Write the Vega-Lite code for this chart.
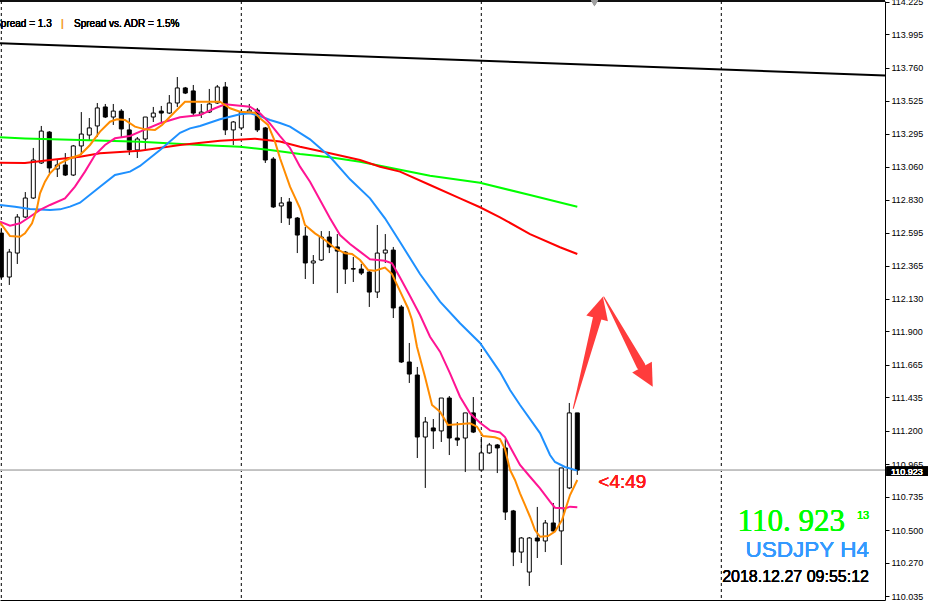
{
  "$schema": "https://vega.github.io/schema/vega-lite/v6.json",
  "width": 885,
  "height": 599,
  "autosize": {"type": "none"},
  "padding": {"left": 0, "top": 1, "right": 48, "bottom": 2},
  "background": "white",
  "config": {"view": {"stroke": null}},
  "datasets": {
    "candles": [
      {"i":0,"o":112.594,"h":112.630,"l":112.270,"c":112.284},
      {"i":1,"o":112.284,"h":112.482,"l":112.228,"c":112.460},
      {"i":2,"o":112.453,"h":112.728,"l":112.376,"c":112.707},
      {"i":3,"o":112.707,"h":112.883,"l":112.700,"c":112.841},
      {"i":4,"o":112.841,"h":113.194,"l":112.834,"c":113.109},
      {"i":5,"o":113.088,"h":113.349,"l":113.081,"c":113.313},
      {"i":6,"o":113.306,"h":113.313,"l":113.017,"c":113.053},
      {"i":7,"o":113.046,"h":113.116,"l":112.989,"c":113.074},
      {"i":8,"o":113.074,"h":113.158,"l":112.996,"c":113.003},
      {"i":9,"o":113.003,"h":113.215,"l":112.996,"c":113.208},
      {"i":10,"o":113.208,"h":113.447,"l":113.144,"c":113.292},
      {"i":11,"o":113.285,"h":113.405,"l":113.250,"c":113.335},
      {"i":12,"o":113.349,"h":113.511,"l":113.271,"c":113.476},
      {"i":13,"o":113.483,"h":113.504,"l":113.405,"c":113.412},
      {"i":14,"o":113.412,"h":113.504,"l":113.356,"c":113.454},
      {"i":15,"o":113.454,"h":113.468,"l":113.271,"c":113.328},
      {"i":16,"o":113.321,"h":113.405,"l":113.144,"c":113.180},
      {"i":17,"o":113.180,"h":113.271,"l":113.123,"c":113.257},
      {"i":18,"o":113.257,"h":113.412,"l":113.180,"c":113.412},
      {"i":19,"o":113.412,"h":113.483,"l":113.377,"c":113.440},
      {"i":20,"o":113.454,"h":113.490,"l":113.377,"c":113.440},
      {"i":21,"o":113.440,"h":113.567,"l":113.433,"c":113.511},
      {"i":22,"o":113.511,"h":113.694,"l":113.483,"c":113.617},
      {"i":23,"o":113.617,"h":113.624,"l":113.574,"c":113.581},
      {"i":24,"o":113.596,"h":113.638,"l":113.426,"c":113.440},
      {"i":25,"o":113.433,"h":113.504,"l":113.405,"c":113.447},
      {"i":26,"o":113.447,"h":113.610,"l":113.440,"c":113.504},
      {"i":27,"o":113.511,"h":113.638,"l":113.504,"c":113.624},
      {"i":28,"o":113.624,"h":113.659,"l":113.285,"c":113.321},
      {"i":29,"o":113.321,"h":113.384,"l":113.215,"c":113.377},
      {"i":30,"o":113.335,"h":113.461,"l":113.328,"c":113.447},
      {"i":31,"o":113.447,"h":113.504,"l":113.440,"c":113.461},
      {"i":32,"o":113.461,"h":113.476,"l":113.306,"c":113.321},
      {"i":33,"o":113.335,"h":113.342,"l":113.088,"c":113.109},
      {"i":34,"o":113.116,"h":113.130,"l":112.771,"c":112.778},
      {"i":35,"o":112.785,"h":112.848,"l":112.665,"c":112.806},
      {"i":36,"o":112.813,"h":112.841,"l":112.651,"c":112.700},
      {"i":37,"o":112.700,"h":112.707,"l":112.453,"c":112.580},
      {"i":38,"o":112.573,"h":112.637,"l":112.270,"c":112.383},
      {"i":39,"o":112.383,"h":112.439,"l":112.235,"c":112.397},
      {"i":40,"o":112.404,"h":112.608,"l":112.397,"c":112.566},
      {"i":41,"o":112.566,"h":112.608,"l":112.453,"c":112.496},
      {"i":42,"o":112.496,"h":112.587,"l":112.171,"c":112.467},
      {"i":43,"o":112.460,"h":112.467,"l":112.235,"c":112.340},
      {"i":44,"o":112.343,"h":112.425,"l":112.249,"c":112.340},
      {"i":45,"o":112.340,"h":112.376,"l":112.298,"c":112.312},
      {"i":46,"o":112.319,"h":112.326,"l":112.073,"c":112.178},
      {"i":47,"o":112.178,"h":112.651,"l":112.136,"c":112.453},
      {"i":48,"o":112.453,"h":112.587,"l":112.383,"c":112.474},
      {"i":49,"o":112.474,"h":112.496,"l":111.995,"c":112.066},
      {"i":50,"o":112.073,"h":112.087,"l":111.678,"c":111.685},
      {"i":51,"o":111.685,"h":111.819,"l":111.537,"c":111.600},
      {"i":52,"o":111.593,"h":111.650,"l":111.008,"c":111.156},
      {"i":53,"o":111.156,"h":111.297,"l":110.797,"c":111.262},
      {"i":54,"o":111.220,"h":111.283,"l":111.072,"c":111.199},
      {"i":55,"o":111.199,"h":111.431,"l":111.121,"c":111.431},
      {"i":56,"o":111.431,"h":111.445,"l":111.029,"c":111.149},
      {"i":57,"o":111.149,"h":111.262,"l":111.093,"c":111.135},
      {"i":58,"o":111.149,"h":111.326,"l":110.909,"c":111.326},
      {"i":59,"o":111.326,"h":111.438,"l":111.184,"c":111.191},
      {"i":60,"o":110.924,"h":111.156,"l":110.917,"c":111.044},
      {"i":61,"o":111.044,"h":111.114,"l":111.037,"c":111.100},
      {"i":62,"o":111.100,"h":111.107,"l":110.902,"c":111.079},
      {"i":63,"o":111.079,"h":111.142,"l":110.571,"c":110.627},
      {"i":64,"o":110.635,"h":110.642,"l":110.246,"c":110.345},
      {"i":65,"o":110.345,"h":110.451,"l":110.268,"c":110.444},
      {"i":66,"o":110.204,"h":110.451,"l":110.106,"c":110.444},
      {"i":67,"o":110.444,"h":110.663,"l":110.303,"c":110.423},
      {"i":68,"o":110.423,"h":110.571,"l":110.345,"c":110.550},
      {"i":69,"o":110.550,"h":110.691,"l":110.487,"c":110.494},
      {"i":70,"o":110.494,"h":110.938,"l":110.254,"c":110.938},
      {"i":71,"o":110.797,"h":111.396,"l":110.789,"c":111.326},
      {"i":72,"o":111.326,"h":111.326,"l":110.889,"c":110.923}
    ],
    "ma": [
      {"s":"trend","i":-0.1625,"p":113.932},{"s":"trend","i":110.4625,"p":113.705},
      {"s":"green","i":-0.16,"p":113.269},{"s":"green","i":2.96,"p":113.261},{"s":"green","i":9.84,"p":113.250},{"s":"green","i":17.34,"p":113.238},{"s":"green","i":24.84,"p":113.215},{"s":"green","i":29.84,"p":113.203},{"s":"green","i":33.59,"p":113.180},{"s":"green","i":37.34,"p":113.151},{"s":"green","i":41.09,"p":113.128},{"s":"green","i":44.84,"p":113.097},{"s":"green","i":47.34,"p":113.069},{"s":"green","i":53.59,"p":112.998},{"s":"green","i":59.84,"p":112.949},{"s":"green","i":66.09,"p":112.862},{"s":"green","i":72,"p":112.780},
      {"s":"red","i":-0.16,"p":113.090},{"s":"red","i":2.96,"p":113.088},{"s":"red","i":6.09,"p":113.109},{"s":"red","i":9.84,"p":113.132},{"s":"red","i":12.34,"p":113.156},{"s":"red","i":17.34,"p":113.175},{"s":"red","i":22.34,"p":113.215},{"s":"red","i":27.34,"p":113.245},{"s":"red","i":31.71,"p":113.259},{"s":"red","i":34.84,"p":113.239},{"s":"red","i":37.34,"p":113.203},{"s":"red","i":41.09,"p":113.156},{"s":"red","i":44.84,"p":113.109},{"s":"red","i":47.34,"p":113.062},{"s":"red","i":49.84,"p":113.027},{"s":"red","i":53.59,"p":112.933},{"s":"red","i":57.34,"p":112.839},{"s":"red","i":59.84,"p":112.776},{"s":"red","i":62.34,"p":112.705},{"s":"red","i":66.09,"p":112.587},{"s":"red","i":69.84,"p":112.494},{"s":"red","i":72,"p":112.446},
      {"s":"blue","i":-0.16,"p":112.792},{"s":"blue","i":1.71,"p":112.780},{"s":"blue","i":3.59,"p":112.764},{"s":"blue","i":6.09,"p":112.757},{"s":"blue","i":7.34,"p":112.761},{"s":"blue","i":8.59,"p":112.780},{"s":"blue","i":9.84,"p":112.808},{"s":"blue","i":12.34,"p":112.921},{"s":"blue","i":14.21,"p":113.003},{"s":"blue","i":16.09,"p":113.027},{"s":"blue","i":17.34,"p":113.067},{"s":"blue","i":19.84,"p":113.180},{"s":"blue","i":22.34,"p":113.301},{"s":"blue","i":23.59,"p":113.332},{"s":"blue","i":24.84,"p":113.349},{"s":"blue","i":27.34,"p":113.396},{"s":"blue","i":29.84,"p":113.431},{"s":"blue","i":31.09,"p":113.438},{"s":"blue","i":32.34,"p":113.419},{"s":"blue","i":33.59,"p":113.391},{"s":"blue","i":34.84,"p":113.370},{"s":"blue","i":36.09,"p":113.344},{"s":"blue","i":38.59,"p":113.255},{"s":"blue","i":41.09,"p":113.132},{"s":"blue","i":43.59,"p":112.973},{"s":"blue","i":46.09,"p":112.839},{"s":"blue","i":47.96,"p":112.698},{"s":"blue","i":49.84,"p":112.531},{"s":"blue","i":52.34,"p":112.305},{"s":"blue","i":54.84,"p":112.110},{"s":"blue","i":57.34,"p":111.958},{"s":"blue","i":59.84,"p":111.819},{"s":"blue","i":62.34,"p":111.614},{"s":"blue","i":63.59,"p":111.488},{"s":"blue","i":64.84,"p":111.382},{"s":"blue","i":67.34,"p":111.184},{"s":"blue","i":68.59,"p":111.029},{"s":"blue","i":69.21,"p":110.980},{"s":"blue","i":70.46,"p":110.945},{"s":"blue","i":72,"p":110.919},
      {"s":"pink","i":-0.16,"p":112.674},{"s":"pink","i":1.09,"p":112.646},{"s":"pink","i":2.34,"p":112.663},{"s":"pink","i":3.59,"p":112.709},{"s":"pink","i":4.84,"p":112.757},{"s":"pink","i":6.09,"p":112.792},{"s":"pink","i":7.96,"p":112.839},{"s":"pink","i":9.21,"p":112.921},{"s":"pink","i":10.46,"p":113.027},{"s":"pink","i":11.71,"p":113.144},{"s":"pink","i":12.96,"p":113.215},{"s":"pink","i":14.21,"p":113.262},{"s":"pink","i":16.09,"p":113.278},{"s":"pink","i":17.34,"p":113.309},{"s":"pink","i":19.84,"p":113.368},{"s":"pink","i":22.34,"p":113.410},{"s":"pink","i":24.84,"p":113.426},{"s":"pink","i":26.71,"p":113.474},{"s":"pink","i":27.96,"p":113.502},{"s":"pink","i":29.84,"p":113.492},{"s":"pink","i":31.09,"p":113.485},{"s":"pink","i":32.34,"p":113.438},{"s":"pink","i":33.59,"p":113.366},{"s":"pink","i":34.84,"p":113.278},{"s":"pink","i":36.09,"p":113.194},{"s":"pink","i":37.34,"p":113.062},{"s":"pink","i":38.59,"p":112.956},{"s":"pink","i":39.84,"p":112.827},{"s":"pink","i":41.09,"p":112.698},{"s":"pink","i":42.34,"p":112.580},{"s":"pink","i":43.59,"p":112.517},{"s":"pink","i":44.84,"p":112.463},{"s":"pink","i":46.09,"p":112.409},{"s":"pink","i":47.96,"p":112.399},{"s":"pink","i":48.84,"p":112.381},{"s":"pink","i":49.84,"p":112.281},{"s":"pink","i":51.09,"p":112.150},{"s":"pink","i":52.34,"p":112.016},{"s":"pink","i":53.59,"p":111.863},{"s":"pink","i":54.84,"p":111.758},{"s":"pink","i":56.09,"p":111.605},{"s":"pink","i":57.34,"p":111.440},{"s":"pink","i":58.59,"p":111.323},{"s":"pink","i":59.84,"p":111.257},{"s":"pink","i":61.09,"p":111.203},{"s":"pink","i":62.34,"p":111.188},{"s":"pink","i":62.96,"p":111.156},{"s":"pink","i":63.59,"p":111.088},{"s":"pink","i":64.84,"p":110.959},{"s":"pink","i":66.09,"p":110.876},{"s":"pink","i":67.34,"p":110.794},{"s":"pink","i":68.59,"p":110.700},{"s":"pink","i":69.21,"p":110.658},{"s":"pink","i":70.46,"p":110.653},{"s":"pink","i":71.09,"p":110.665},{"s":"pink","i":72,"p":110.661},
      {"s":"orange","i":-0.16,"p":112.667},{"s":"orange","i":1.09,"p":112.573},{"s":"orange","i":2.34,"p":112.568},{"s":"orange","i":2.96,"p":112.592},{"s":"orange","i":3.84,"p":112.663},{"s":"orange","i":4.46,"p":112.769},{"s":"orange","i":4.84,"p":112.874},{"s":"orange","i":5.46,"p":112.956},{"s":"orange","i":6.09,"p":113.015},{"s":"orange","i":7.34,"p":113.086},{"s":"orange","i":8.59,"p":113.121},{"s":"orange","i":9.84,"p":113.144},{"s":"orange","i":11.09,"p":113.215},{"s":"orange","i":12.34,"p":113.309},{"s":"orange","i":13.59,"p":113.379},{"s":"orange","i":14.46,"p":113.396},{"s":"orange","i":15.46,"p":113.391},{"s":"orange","i":16.71,"p":113.344},{"s":"orange","i":17.96,"p":113.325},{"s":"orange","i":19.21,"p":113.321},{"s":"orange","i":20.09,"p":113.356},{"s":"orange","i":21.09,"p":113.414},{"s":"orange","i":22.34,"p":113.485},{"s":"orange","i":22.96,"p":113.520},{"s":"orange","i":27.34,"p":113.520},{"s":"orange","i":27.96,"p":113.497},{"s":"orange","i":28.59,"p":113.474},{"s":"orange","i":29.84,"p":113.450},{"s":"orange","i":31.71,"p":113.443},{"s":"orange","i":32.34,"p":113.403},{"s":"orange","i":33.34,"p":113.356},{"s":"orange","i":34.21,"p":113.238},{"s":"orange","i":34.84,"p":113.121},{"s":"orange","i":36.09,"p":112.921},{"s":"orange","i":37.34,"p":112.769},{"s":"orange","i":37.96,"p":112.651},{"s":"orange","i":39.21,"p":112.592},{"s":"orange","i":40.46,"p":112.545},{"s":"orange","i":41.71,"p":112.487},{"s":"orange","i":42.96,"p":112.451},{"s":"orange","i":43.84,"p":112.446},{"s":"orange","i":44.84,"p":112.404},{"s":"orange","i":45.84,"p":112.334},{"s":"orange","i":46.71,"p":112.329},{"s":"orange","i":47.96,"p":112.351},{"s":"orange","i":48.84,"p":112.305},{"s":"orange","i":49.84,"p":112.185},{"s":"orange","i":50.84,"p":112.064},{"s":"orange","i":51.34,"p":111.981},{"s":"orange","i":51.96,"p":111.793},{"s":"orange","i":52.96,"p":111.581},{"s":"orange","i":53.84,"p":111.382},{"s":"orange","i":54.84,"p":111.335},{"s":"orange","i":55.84,"p":111.241},{"s":"orange","i":57.09,"p":111.246},{"s":"orange","i":58.59,"p":111.253},{"s":"orange","i":59.46,"p":111.229},{"s":"orange","i":60.21,"p":111.163},{"s":"orange","i":61.71,"p":111.154},{"s":"orange","i":62.34,"p":111.142},{"s":"orange","i":62.96,"p":111.072},{"s":"orange","i":63.59,"p":110.924},{"s":"orange","i":64.21,"p":110.853},{"s":"orange","i":64.84,"p":110.759},{"s":"orange","i":65.46,"p":110.677},{"s":"orange","i":66.09,"p":110.594},{"s":"orange","i":66.71,"p":110.500},{"s":"orange","i":67.34,"p":110.453},{"s":"orange","i":68.34,"p":110.458},{"s":"orange","i":69.21,"p":110.489},{"s":"orange","i":70.09,"p":110.571},{"s":"orange","i":71.09,"p":110.747},{"s":"orange","i":72,"p":110.853}
    ],
    "shafts": [
      {"a":"up","i":71.5,"p":111.358,"w":1},{"a":"up","i":74.59,"p":112.016,"w":9},
      {"a":"down","i":75.31,"p":112.143,"w":1},{"a":"down","i":79.96,"p":111.657,"w":9}
    ],
    "heads": [
      {"a":"up","i":74.84,"p":112.068,"ang":15},
      {"a":"down","i":80.76,"p":111.580,"ang":151.4}
    ],
    "grid": [{"i":0},{"i":30},{"i":60},{"i":90}]
  },
  "encoding": {
    "x": {"type": "quantitative", "scale": {"domain": [-0.1625, 110.4625], "nice": false, "zero": false, "padding": 0},
          "axis": {"orient": "bottom", "labels": false, "ticks": false, "grid": false, "domain": true, "domainColor": "black", "domainWidth": 1, "title": null}},
    "y": {"type": "quantitative", "scale": {"domain": [110.007, 114.230], "nice": false, "zero": false},
          "axis": {"orient": "right", "values": [110.035,110.270,110.500,110.735,110.965,111.200,111.435,111.665,111.900,112.130,112.365,112.595,112.830,113.060,113.295,113.525,113.760,113.995,114.225],
                   "format": ".3f", "labelFont": "Liberation Sans", "labelFontSize": 9, "labelFontWeight": "normal", "labelColor": "black",
                   "tickColor": "black", "tickSize": 4, "labelPadding": 2, "domainColor": "black", "domainWidth": 1,
                   "grid": false, "title": null, "labelFlush": false, "labelOverlap": false, "labelBound": false}}
  },
  "layer": [
    {
      "data": {"name": "grid"},
      "mark": {"type": "rule", "color": "black", "strokeWidth": 1, "strokeDash": [3, 3]},
      "encoding": {"x": {"field": "i"}, "y": {"datum": 114.230}, "y2": {"datum": 110.007}}
    },
    {
      "data": {"name": "grid"},
      "mark": {"type": "rule", "color": "#c0c0c0", "strokeWidth": 1},
      "encoding": {"x": {"datum": -0.1625}, "x2": {"datum": 110.4625}, "y": {"datum": 110.923}}
    },
    {
      "data": {"name": "grid"},
      "mark": {"type": "rule", "color": "black", "strokeWidth": 1},
      "encoding": {"x": {"datum": -0.1625}, "x2": {"datum": 110.4625}, "y": {"datum": 114.230}}
    },
    {
      "data": {"name": "candles"},
      "mark": {"type": "rule", "color": "black", "strokeWidth": 1},
      "encoding": {"x": {"field": "i"}, "y": {"field": "l"}, "y2": {"field": "h"}}
    },
    {
      "data": {"name": "candles"},
      "mark": {"type": "bar", "width": 4, "stroke": "black", "strokeWidth": 1},
      "encoding": {
        "x": {"field": "i"},
        "y": {"field": "o"},
        "y2": {"field": "c"},
        "color": {"condition": {"test": "datum.c < datum.o", "value": "black"}, "value": "white"}
      }
    },
    {
      "data": {"name": "ma"},
      "mark": {"type": "line", "strokeWidth": 2},
      "encoding": {
        "x": {"field": "i"},
        "y": {"field": "p"},
        "color": {"field": "s", "type": "nominal", "legend": null,
                  "scale": {"domain": ["trend", "green", "red", "blue", "pink", "orange"], "range": ["#000000", "#00ff00", "#ff0000", "#1e90ff", "#ff1493", "#ff8c00"]}}
      }
    },
    {
      "data": {"name": "shafts"},
      "mark": {"type": "trail", "color": "#ff3c3c"},
      "encoding": {
        "x": {"field": "i"},
        "y": {"field": "p"},
        "size": {"field": "w", "type": "quantitative", "scale": null},
        "detail": {"field": "a"}
      }
    },
    {
      "data": {"name": "heads"},
      "mark": {"type": "point", "filled": true, "color": "#ff3c3c", "opacity": 1, "shape": "M0,-1L1,1L-1,1Z", "size": 500},
      "encoding": {
        "x": {"field": "i"},
        "y": {"field": "p"},
        "angle": {"field": "ang", "type": "quantitative", "scale": null}
      }
    },
    {
      "data": {"name": "grid"},
      "mark": {"type": "point", "filled": true, "color": "#a0a0a0", "opacity": 1, "shape": "triangle-down", "size": 70},
      "encoding": {"x": {"datum": 74.15}, "y": {"datum": 114.219}}
    },
    {
      "data": {"name": "grid"},
      "mark": {"type": "text", "text": "Spread = 1.3", "font": "Liberation Sans", "fontSize": 10, "fill": "black", "align": "right", "baseline": "alphabetic"},
      "encoding": {"x": {"datum": 6.3}, "y": {"datum": 114.049}}
    },
    {
      "data": {"name": "grid"},
      "mark": {"type": "text", "text": "|", "font": "Liberation Sans", "fontSize": 11, "fill": "#f5a04c", "align": "center", "baseline": "alphabetic"},
      "encoding": {"x": {"datum": 7.65}, "y": {"datum": 114.045}}
    },
    {
      "data": {"name": "grid"},
      "mark": {"type": "text", "text": "Spread vs. ADR = 1.5%", "font": "Liberation Sans", "fontSize": 10, "fill": "black", "align": "left", "baseline": "alphabetic"},
      "encoding": {"x": {"datum": 9.09}, "y": {"datum": 114.049}}
    },
    {
      "data": {"name": "grid"},
      "mark": {"type": "text", "text": "<4:49", "font": "Liberation Sans", "fontSize": 19, "fill": "#ff1a1a", "align": "left", "baseline": "alphabetic"},
      "encoding": {"x": {"datum": 74.625}, "y": {"datum": 110.795}}
    },
    {
      "data": {"name": "grid"},
      "mark": {"type": "text", "text": "110. 923", "font": "Liberation Serif", "fontSize": 31, "fill": "#00ff00", "align": "right", "baseline": "alphabetic"},
      "encoding": {"x": {"datum": 105.46}, "y": {"datum": 110.494}}
    },
    {
      "data": {"name": "grid"},
      "mark": {"type": "text", "text": "13", "font": "Liberation Sans", "fontSize": 11, "fill": "#00ff00", "align": "left", "baseline": "alphabetic"},
      "encoding": {"x": {"datum": 106.96}, "y": {"datum": 110.576}}
    },
    {
      "data": {"name": "grid"},
      "mark": {"type": "text", "text": "USDJPY H4", "font": "Liberation Sans", "fontSize": 22.5, "fill": "#3399ff", "align": "right", "baseline": "alphabetic"},
      "encoding": {"x": {"datum": 108.46}, "y": {"datum": 110.308}}
    },
    {
      "data": {"name": "grid"},
      "mark": {"type": "text", "text": "2018.12.27 09:55:12", "font": "Liberation Sans", "fontSize": 16, "fill": "black", "align": "right", "baseline": "alphabetic"},
      "encoding": {"x": {"datum": 108.46}, "y": {"datum": 110.136}}
    },
    {
      "data": {"name": "grid"},
      "mark": {"type": "rect", "color": "black", "xOffset": 1.5, "x2Offset": 43, "yOffset": -3.5, "y2Offset": 6},
      "encoding": {"x": {"datum": 110.4625}, "x2": {"datum": 110.4625}, "y": {"datum": 110.923}, "y2": {"datum": 110.923}}
    },
    {
      "data": {"name": "grid"},
      "mark": {"type": "text", "text": "110.923", "font": "Liberation Sans", "fontSize": 9, "fill": "white", "align": "left", "baseline": "middle", "dx": 6, "dy": 1.5},
      "encoding": {"x": {"datum": 110.4625}, "y": {"datum": 110.923}}
    }
  ]
}
